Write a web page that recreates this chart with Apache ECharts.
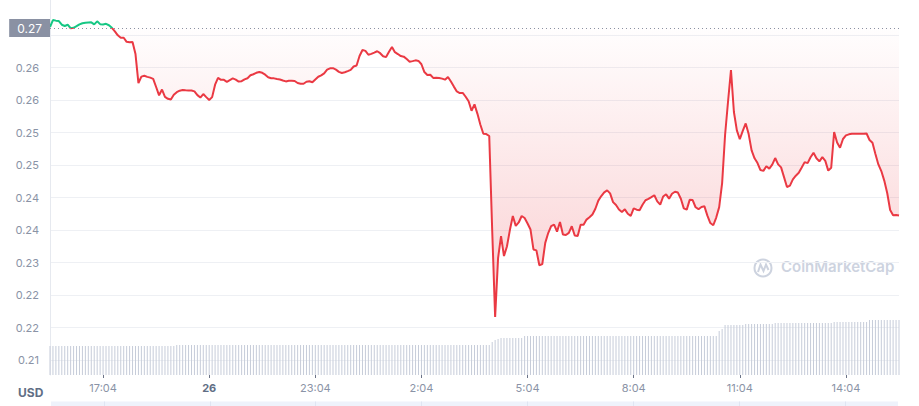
<!DOCTYPE html>
<html><head><meta charset="utf-8">
<script src="https://cdn.jsdelivr.net/npm/echarts@6/dist/echarts.min.js"></script>
<style>html,body{margin:0;padding:0;background:#fff}#c{width:919px;height:406px}</style>
</head><body><div id="c"></div>
<script>
// time categories: 5-minute steps from 15:34 to 15:34 next day
const startMinute = 15 * 60 + 34;
const stepMinutes = 5;
const pointCount = 289;
const categories = [];
for (let i = 0; i < pointCount; i++) {
  const m = (startMinute + i * stepMinutes) % 1440;
  categories.push(Math.floor(m / 60) + ':' + String(m % 60).padStart(2, '0'));
}

// x tick labels
const tickTimes = ['17:04', '20:04', '23:04', '2:04', '5:04', '8:04', '11:04', '14:04'];
const dayLabels = { '20:04': '26' };

// y tick labels (from 0.21 upward, step 0.005)
const yMin = 0.21, yMax = 0.27, yStep = 0.005;
const yTickLabels = ['', '0.21', '0.22', '0.22', '0.23', '0.24', '0.24', '0.25', '0.25', '0.26', '0.26', '', ''];

// opening price (reference line)
const baseline = 0.26607;

// price (USD)
const prices = [
  0.26623,0.26730,0.26721,0.26715,0.26658,0.26638,0.26658,0.26604,0.26610,0.26635,
  0.26663,0.26681,0.26689,0.26692,0.26695,0.26664,0.26710,0.26667,0.26663,0.26672,
  0.26650,0.26610,0.26556,0.26495,0.26458,0.26458,0.26395,0.26387,0.26393,0.26207,
  0.25761,0.25860,0.25873,0.25856,0.25844,0.25826,0.25700,0.25572,0.25661,0.25549,
  0.25518,0.25507,0.25580,0.25620,0.25643,0.25653,0.25649,0.25646,0.25646,0.25633,
  0.25575,0.25538,0.25592,0.25544,0.25500,0.25544,0.25736,0.25841,0.25810,0.25810,
  0.25780,0.25807,0.25832,0.25813,0.25783,0.25789,0.25818,0.25835,0.25880,0.25896,
  0.25918,0.25932,0.25918,0.25889,0.25849,0.25835,0.25833,0.25823,0.25815,0.25800,
  0.25786,0.25796,0.25796,0.25792,0.25761,0.25749,0.25750,0.25781,0.25789,0.25773,
  0.25816,0.25858,0.25878,0.25910,0.25967,0.25987,0.25989,0.25967,0.25933,0.25916,
  0.25927,0.25944,0.25964,0.26015,0.26030,0.26176,0.26269,0.26256,0.26196,0.26210,
  0.26229,0.26250,0.26220,0.26173,0.26160,0.26241,0.26315,0.26236,0.26207,0.26176,
  0.26167,0.26130,0.26090,0.26098,0.26110,0.26101,0.26050,0.25930,0.25884,0.25889,
  0.25840,0.25841,0.25838,0.25829,0.25813,0.25855,0.25784,0.25706,0.25632,0.25607,
  0.25609,0.25550,0.25480,0.25335,0.25432,0.25287,0.25120,0.24980,0.24976,0.24946,
  0.23499,0.22161,0.23069,0.23407,0.23099,0.23246,0.23499,0.23715,0.23564,0.23616,
  0.23715,0.23684,0.23600,0.23507,0.23201,0.23186,0.22958,0.22976,0.23302,0.23453,
  0.23560,0.23584,0.23475,0.23622,0.23430,0.23422,0.23456,0.23558,0.23415,0.23407,
  0.23581,0.23582,0.23660,0.23695,0.23738,0.23827,0.23952,0.24022,0.24080,0.24109,
  0.24064,0.23929,0.23884,0.23815,0.23778,0.23818,0.23750,0.23718,0.23832,0.23813,
  0.23804,0.23889,0.23958,0.23978,0.24006,0.24035,0.23940,0.23890,0.24015,0.24049,
  0.23982,0.24058,0.24089,0.24076,0.23981,0.23833,0.23813,0.23964,0.23961,0.23850,
  0.23820,0.23855,0.23864,0.23721,0.23607,0.23573,0.23692,0.23852,0.24222,0.24961,
  0.25473,0.25961,0.25315,0.25032,0.24896,0.25026,0.25140,0.24976,0.24726,0.24603,
  0.24530,0.24422,0.24410,0.24480,0.24444,0.24506,0.24607,0.24510,0.24464,0.24313,
  0.24161,0.24183,0.24278,0.24335,0.24380,0.24461,0.24544,0.24529,0.24620,0.24687,
  0.24603,0.24556,0.24620,0.24563,0.24413,0.24458,0.25007,0.24847,0.24766,0.24900,
  0.24956,0.24972,0.24981,0.24981,0.24981,0.24981,0.24981,0.24984,0.24885,0.24841,
  0.24669,0.24509,0.24407,0.24260,0.24069,0.23807,0.23727,0.23732,0.23722
];

// 24h volume (millions USD)
const volumes = [
  29,29,29,29,29,29,29,29,29,29,
  29,29,29,29,29,29,29,29,29,29,
  29,29,29,29,29,29,29,29,29,29,
  29,29,29,29,29,29,29,29,29,29,
  29,29,29,30,30,30,30,30,30,30,
  30,30,30,30,30,30,30,30,30,30,
  30,30,30,30,30,30,30,30,30,30,
  30,30,30,30,30,30,30,30,30,30,
  30,30,30,30,30,30,30,30,30,30,
  30,30,30,30,30,30,30,30,30,30,
  30,30,30,30,30,30,30,30,30,30,
  30,30,30,30,30,30,30,30,30,30,
  30,30,30,30,30,30,30,30,30,30,
  30,30,30,30,30,30,30,30,30,30,
  30,30,30,30,30,30,30,30,30,30,
  33,35,36,37,37,37,37,37,37,37,
  37,39,39,39,39,39,39,39,39,39,
  39,39,39,39,39,39,39,39,39,39,
  39,39,39,39,39,39,39,39,39,39,
  39,39,39,39,39,39,39,39,39,39,
  39,39,39,39,39,39,39,39,39,39,
  39,39,39,39,39,39,39,39,39,39,
  39,39,39,39,39,39,39,44,46,50,
  50,50,50,50,50,50,51,51,51,51,
  51,51,51,51,51,51,52,52,52,52,
  52,52,52,52,52,52,52,52,52,52,
  52,52,52,52,52,52,53,53,53,53,
  53,53,53,53,53,53,53,53,55,55,
  55,55,55,55,55,55,55,55,55
];

const tickFn = (idx, val) => tickTimes.indexOf(val) >= 0;
const FONT = 'Inter';

const chart = echarts.init(document.getElementById('c'), null, { renderer: 'svg' });
chart.setOption({
  animation: false,
  title: { text: 'USD', left: 13, top: 381, textStyle: { fontSize: 12, fontWeight: 'bold', color: '#616e85', fontFamily: FONT } },
  grid: [
    { left: 50, right: 20, top: 2.5, height: 390 },
    { left: 50, right: 20, bottom: 31, height: 60 },
    { left: 51, right: 21, top: 401.5, height: 10, show: true, backgroundColor: '#eef2fb', borderWidth: 0 },
    { left: 50, right: 20, top: 0, bottom: 31 }
  ],
  xAxis: [
    { gridIndex: 0, type: 'category', data: categories, boundaryGap: false, show: false },
    { gridIndex: 1, type: 'category', data: categories, boundaryGap: false,
      axisLine: { show: false },
      axisTick: { show: true, interval: tickFn, length: 3, lineStyle: { color: '#6b7387' } },
      axisLabel: { interval: tickFn, margin: 7, color: '#8a93a6', fontSize: 11, fontFamily: FONT,
        formatter: v => dayLabels[v] ? '{d|' + dayLabels[v] + '}' : v,
        rich: { d: { fontWeight: 'bold', color: '#616e85', fontSize: 11, fontFamily: FONT } } },
      splitLine: { show: false } },
    { gridIndex: 2, type: 'category', data: categories, boundaryGap: false,
      axisLine: { show: false }, axisTick: { show: false }, axisLabel: { show: false },
      splitLine: { show: true, interval: tickFn, lineStyle: { color: '#dfe5f2' } } },
    { gridIndex: 3, type: 'category', data: categories, boundaryGap: false, show: false }
  ],
  yAxis: [
    { gridIndex: 0, type: 'value', min: yMin, max: yMax, interval: yStep,
      axisLine: { show: false }, axisTick: { show: false },
      splitLine: { show: true, showMinLine: false, showMaxLine: false, lineStyle: { color: '#eef0f4' } },
      axisLabel: { showMinLabel: false, showMaxLabel: false, margin: 11, color: '#8a93a6', fontSize: 11, fontFamily: FONT,
        formatter: v => yTickLabels[Math.round((v - yMin) / yStep)] || '' } },
    { gridIndex: 1, type: 'value', min: 0, max: 60, show: false },
    { gridIndex: 2, type: 'value', show: false },
    { gridIndex: 3, type: 'value', axisLine: { show: true, lineStyle: { color: '#e6e9ef' } },
      axisTick: { show: false }, axisLabel: { show: false }, splitLine: { show: false } }
  ],
  visualMap: {
    show: false, type: 'piecewise', seriesIndex: 0, dimension: 1,
    pieces: [
      { gte: 0.2, lte: baseline, color: '#ea3943' },
      { gt: baseline, lte: 0.3, color: '#16c784' }
    ]
  },
  series: [
    { type: 'line', xAxisIndex: 0, yAxisIndex: 0, data: prices, symbol: 'none', showSymbol: false,
      lineStyle: { width: 2 }, z: 3, silent: true,
      areaStyle: { origin: baseline,
        color: new echarts.graphic.LinearGradient(0, 0, 0, 1, [
          { offset: 0, color: 'rgba(234,57,67,0.0)' },
          { offset: 1, color: 'rgba(234,57,67,0.35)' }]) },
      markLine: { silent: true, symbol: ['none', 'none'],
        data: [[{ coord: [0, baseline] }, { coord: [pointCount - 1, baseline] }]],
        lineStyle: { color: '#8a91a3', type: [1, 3], width: 1 },
        label: { position: 'start', distance: 0, formatter: baseline.toFixed(2), color: '#fff',
          backgroundColor: '#8a91a3', padding: [3, 8, 3, 8], fontSize: 12, fontFamily: FONT } } },
    { type: 'bar', xAxisIndex: 1, yAxisIndex: 1, data: volumes, barWidth: 1,
      itemStyle: { color: '#c6ccd9' }, silent: true }
  ],
  graphic: [
    { type: 'circle', silent: true, shape: { cx: 763, cy: 268, r: 8.5 }, style: { fill: 'none', stroke: '#cdd3df', lineWidth: 2 } },
    { type: 'polyline', silent: true, shape: { points: [[758, 272], [760.5, 264.5], [763.5, 271], [766, 264.5], [768.5, 270]] },
      style: { stroke: '#cdd3df', lineWidth: 2, fill: 'none' } },
    { type: 'text', silent: true, left: 781, top: 259, style: { text: 'CoinMarketCap', font: '600 15px Inter', fill: '#cdd3df' } }
  ]
});
</script>
</body></html>
